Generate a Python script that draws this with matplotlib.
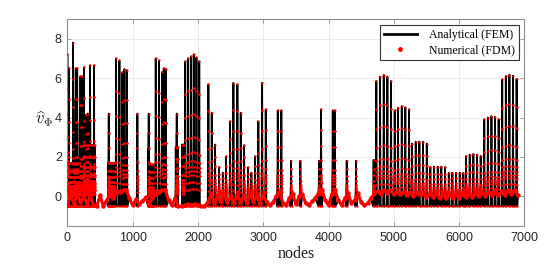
import numpy as np
import matplotlib
matplotlib.use("Agg")
import matplotlib.pyplot as plt
from matplotlib.lines import Line2D

# ---------------- data ----------------
spike_nodes = [0, 20, 87, 128, 150, 200, 230, 255, 290, 315, 348, 409,
               634, 746, 797, 843, 873, 910,
               1072, 1246,
               1353, 1404, 1450, 1476, 1506,
               1675,
               1805, 1850, 1893, 1935, 1977, 2020,
               2160, 2211, 2262, 2323, 2380, 2430, 2492, 2543, 2604, 2655,
               2706, 2767, 2818, 2874, 2925, 2982, 3038,
               3222, 3277, 3426, 3568, 3854, 3885, 4064, 4095, 4278, 4421,
               4690,
               4732, 4789, 4845, 4901, 4957,
               5013, 5064, 5121, 5176, 5233,
               5279, 5335, 5391, 5447, 5504,
               5559, 5616, 5672, 5727, 5784,
               5841, 5896, 5953, 6009, 6064,
               6106, 6162, 6218, 6274, 6330,
               6385, 6440, 6495, 6550, 6605,
               6660, 6715, 6770, 6825, 6880]
spike_peaks = [7.2, 6.5, 7.8, 6.5, 6.5, 6.1, 6.1, 6.55, 4.15, 4.2, 6.65, 6.65,
               4.2, 7.0, 6.9, 6.3, 6.45, 6.4,
               4.2, 4.2,
               7.0, 6.9, 6.3, 6.5, 6.45,
               4.2,
               6.85, 7.0, 7.1, 7.2, 7.05, 6.85,
               5.68, 4.24, 2.63, 1.48, 1.2, 2.03, 3.81, 5.76, 5.68, 4.24,
               2.6, 1.48, 1.2, 2.03, 3.81, 5.76, 4.41,
               4.36, 4.36, 1.81, 1.81, 1.81, 4.41, 4.36, 4.36, 1.81, 1.81,
               1.85,
               5.85, 6.07, 6.15, 6.07, 5.85,
               4.37, 4.49, 4.58, 4.52, 4.41,
               2.68, 2.77, 2.78, 2.77, 2.68,
               1.49, 1.51, 1.51, 1.51, 1.49,
               1.19, 1.2, 1.2, 1.2, 1.19,
               2.05, 2.12, 2.15, 2.12, 2.05,
               3.9, 4.0, 4.06, 4.03, 3.92,
               5.93, 6.1, 6.17, 6.12, 5.95]

# fractions of the peak where the numerical points sit along each spike
level_fracs = [0.05, 0.1, 0.15, 0.18, 0.21, 0.25, 0.31, 0.42, 0.58, 0.76]

# regions filled with dense short spikes: start node, end node, level
block_starts = [0, 235, 625, 1245, 1660, 1760]
block_ends = [210, 420, 730, 1320, 1700, 1800]
block_levels = [1.7, 2.6, 1.7, 1.62, 2.5, 2.63]

base_nodes = list(range(0, 6901, 50))
base_vals = [-0.45, 0.05, -0.35, 0.1, -0.3, 0.05, -0.4, 0.0, -0.45, -0.5,
             0.05, -0.5, -0.2, 0.05, -0.1, 0.15, 0.2, 0.3, 0.35, -0.1,
             -0.45, -0.15, -0.4, -0.25, -0.05, -0.4, -0.1, 0.1, 0.2, 0.3,
             0.35, -0.2, -0.45, -0.1, -0.5, -0.5, -0.45, -0.4, -0.45, -0.4,
             -0.45, -0.5, -0.5, -0.3, 0.1, -0.35, 0.05, -0.3, 0.1, -0.3,
             0.0, -0.35, 0.1, -0.3, 0.05, -0.35, 0.1, -0.3, 0.05, -0.35,
             0.1, -0.3, -0.45, -0.3, 0.0, 0.25, -0.35, -0.45, -0.1, 0.1,
             -0.4, 0.0, 0.1, -0.35, -0.45, -0.25, -0.1, 0.2, 0.3, -0.2,
             -0.45, 0.1, 0.3, -0.2, -0.45, -0.1, 0.15, -0.35, -0.2, 0.15,
             -0.3, -0.45, -0.35, -0.1, 0.15, 0.25, 0.1, 0.3, 0.15, 0.3,
             0.1, 0.25, 0.1, 0.25, 0.05, 0.2, 0.0, 0.2, 0.05, 0.2,
             -0.05, 0.15, -0.05, 0.15, -0.1, 0.1, -0.1, 0.1, -0.1, 0.1,
             -0.1, 0.1, -0.05, 0.15, -0.05, 0.2, 0.0, 0.2, 0.0, 0.2,
             0.05, 0.25, 0.05, 0.25, 0.05, 0.3, 0.1, 0.3, 0.05]
spike_floor = -0.5

# ---------------- build the node sequence ----------------
def spike_points(n, p, half):
    ups = [spike_floor] + [p * f for f in level_fracs] + [p]
    xu = np.linspace(n - half, n, len(ups))
    xd = np.linspace(n, n + half, len(ups))[1:]
    downs = ups[::-1][1:]
    return list(zip(xu, ups)) + list(zip(xd, downs))

spike_pts = []
all_spike_x = []
for n, p in zip(spike_nodes, spike_peaks):
    spike_pts += spike_points(n, p, 10)
    all_spike_x.append(n)
for s, e, lev in zip(block_starts, block_ends, block_levels):
    for n in np.arange(s, e, 14):
        spike_pts += spike_points(n, lev, 5)
        all_spike_x.append(n)

all_spike_x = np.array(all_spike_x)
base_pts = [(n, v) for n, v in zip(base_nodes, base_vals)
            if np.min(np.abs(all_spike_x - n)) > 11]

pts = sorted(spike_pts + base_pts, key=lambda t: t[0])
x = np.array([t[0] for t in pts])
y = np.array([t[1] for t in pts])
bx = np.array(base_nodes)
by = np.array(base_vals)

# ---------------- plot ----------------
plt.rcParams['mathtext.fontset'] = 'cm'
fig = plt.figure(figsize=(5.5, 2.7), dpi=100)
ax = fig.add_axes([0.1225, 0.163, 0.831, 0.767])

ax.plot(x, y, color='black', lw=1.3, zorder=2)
ax.plot(bx, by, color='red', lw=2.2, zorder=3, solid_capstyle='round')
ax.plot(x, y, 'o', color='red', ms=1.6, mew=0, zorder=3)
ax.plot(bx, by, 'o', color='red', ms=3.2, mew=0, zorder=3)

ax.set_xlim(0, 7000)
ax.set_ylim(-1.5, 9)
ax.set_xticks(range(0, 7001, 1000))
ax.set_yticks([0, 2, 4, 6, 8])
ax.grid(True, color='#e8e8e8', lw=0.6, zorder=0)
ax.set_axisbelow(True)
for sp in ax.spines.values():
    sp.set_color('#8c8c8c')
    sp.set_linewidth(0.8)
ax.tick_params(direction='in', length=3, width=0.6, color='#8c8c8c',
               top=True, right=True, labelsize=9, labelcolor='#262626', pad=4)
for lab in ax.get_xticklabels() + ax.get_yticklabels():
    lab.set_family('Liberation Sans')

ax.set_xlabel('nodes', family='Liberation Serif', fontsize=11.5, color='#1a1a1a', labelpad=2)
ax.set_ylabel(r'$\widehat{v}_{\Phi}$', fontsize=12, rotation=0, color='#1a1a1a', labelpad=12)
ax.yaxis.set_label_coords(-0.05, 0.47)

handles = [Line2D([], [], color='black', lw=2),
           Line2D([], [], color='red', marker='o', ls='none', ms=3.5, mew=0)]
leg = ax.legend(handles, ['Analytical (FEM)', 'Numerical (FDM)'], loc='upper right',
                prop={'family': 'Liberation Serif', 'size': 8.5},
                fancybox=False, framealpha=1, edgecolor='#333333',
                borderaxespad=0.5, handlelength=2.8, handletextpad=1.0,
                borderpad=0.35, labelspacing=0.25)
leg.get_frame().set_linewidth(0.8)

fig.savefig('out.png', dpi=100)
